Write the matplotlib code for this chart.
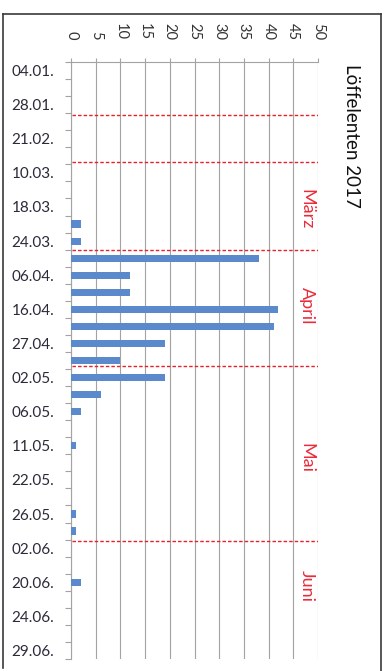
import matplotlib
matplotlib.use("Agg")
import matplotlib.pyplot as plt
from matplotlib.lines import Line2D
import numpy as np

plt.rcParams['font.family'] = ['Lato', 'DejaVu Sans']

# Counting days (every second one is labelled on the axis)
date_labels = ["04.01.", "28.01.", "21.02.", "10.03.", "18.03.", "24.03.",
               "06.04.", "16.04.", "27.04.", "02.05.", "06.05.", "11.05.",
               "22.05.", "26.05.", "02.06.", "20.06.", "24.06.", "29.06."]
counts = [0, 0, 0, 0, 0, 0, 0, 0, 0, 2,
          2, 38, 12, 12, 42, 41, 19, 10, 19, 6,
          2, 0, 1, 0, 0, 0, 1, 1, 0, 0,
          2, 0, 0, 0, 0]
value_ticks = list(range(0, 51, 5))

# Month boundaries (category positions) and month names
month_bounds = [2.6, 5.35, 10.5, 17.35, 27.6]
month_names = ["März", "April", "Mai", "Juni"]
month_label_pos = [8.1, 13.8, 22.7, 30.2]

title = "Löffelenten 2017"

W, H = 387, 671
fig = plt.figure(figsize=(W / 100, H / 100), dpi=100)
ax = fig.add_axes([71 / W, 1 - 659 / H, 247 / W, 597 / H])

n = len(counts)
y = np.arange(n)
ax.barh(y, counts, height=0.42, color="#5a89cc", zorder=3)

ax.set_xlim(0, 50)
ax.set_ylim(n - 0.5, -0.5)

grid_col = "#a3a3a3"
ax.set_xticks(value_ticks)
ax.set_xticklabels([str(v) for v in value_ticks], rotation=-90,
                   fontsize=10.5, color="#333333")
ax.xaxis.tick_top()
ax.tick_params(axis="x", which="major", length=3, width=0.8, color=grid_col,
               pad=13)
for lab in ax.get_xticklabels():
    lab.set_verticalalignment("bottom")
ax.grid(axis="x", color=grid_col, linewidth=0.8, zorder=1)

ax.set_yticks(y[::2])
ax.set_yticklabels(date_labels, fontsize=11, color="#2a2a3a")
ax.set_yticks(np.arange(n + 1) - 0.5, minor=True)
ax.tick_params(axis="y", which="major", length=0, pad=12)
ax.tick_params(axis="y", which="minor", length=4, width=0.8, color=grid_col)

for side in ["right", "bottom"]:
    ax.spines[side].set_visible(False)
for side in ["top", "left"]:
    ax.spines[side].set_color(grid_col)
    ax.spines[side].set_linewidth(0.8)

# Month separators
for b in month_bounds:
    ax.plot([0.3, 50], [b, b], color="#e8202a", linestyle=(0, (2.5, 1.5)),
            linewidth=1.0, zorder=4)
for name, pos in zip(month_names, month_label_pos):
    ax.text(47.7, pos, name, rotation=-90, ha="center", va="center",
            fontsize=13, color="#ec2a3a", zorder=5)

fig.text(352 / W, 1 - 136 / H, title, rotation=-90, ha="center", va="center",
         fontsize=13.5, color="#111111")

# Page frame
frame_col = "#3a3a3a"
fig.add_artist(Line2D([3 / W, 3 / W], [1 - 668 / H, 1 - 14 / H],
                      color=frame_col, linewidth=1.2))
fig.add_artist(Line2D([3 / W, 381 / W], [1 - 14 / H, 1 - 14 / H],
                      color=frame_col, linewidth=1.2))
fig.add_artist(Line2D([381 / W, 381 / W], [1 - 14 / H, 1 - 671 / H],
                      color=frame_col, linewidth=1.2))

fig.savefig("out.png", dpi=100)
